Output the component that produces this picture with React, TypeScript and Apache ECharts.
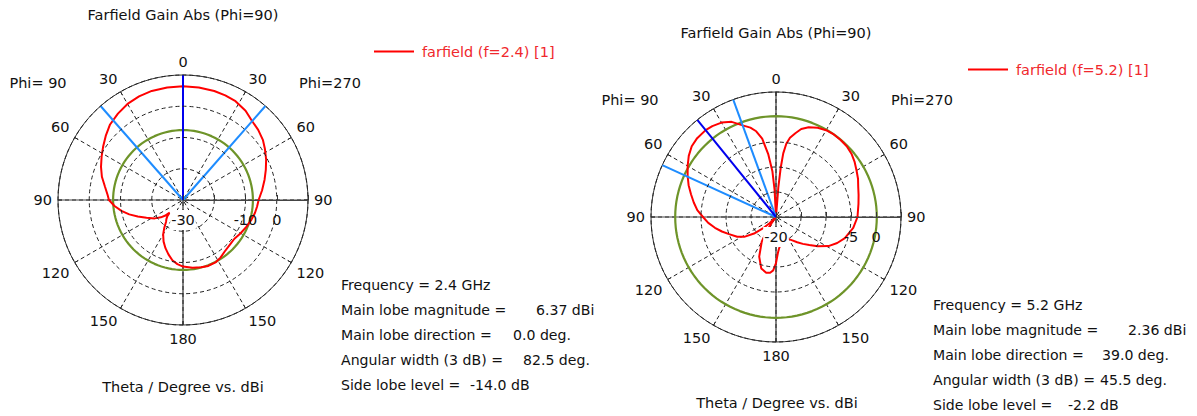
import React, { useEffect, useRef } from 'react';
import * as echarts from 'echarts';

const FONT = '"DejaVu Sans", Verdana, sans-serif';
const FS = 14.5;
const FS_INFO = 14.1;

// ---------- 2.4 GHz (left plot) ----------
const theta24Phi270 = [0, 8, 16, 22, 28, 35, 41, 47, 53, 58, 64, 70, 76, 83, 90, 95, 100, 106, 113, 120, 127, 133, 141, 147, 152, 159, 165, 172, 180];
const gain24Phi270 = [6.37, 6.35, 6.3, 6.1, 5.8, 4.9, 3.6, 2.9, 2.0, 0.9, -0.4, -1.8, -3.1, -4.5, -5.8, -6.2, -6.6, -7.2, -8.0, -8.7, -9.4, -9.3, -8.8, -8.0, -7.5, -7.4, -7.7, -8.1, -8.7];
const theta24Phi90 = [0, 8, 16, 23, 30, 37, 44, 50, 56, 62, 68, 74, 80, 86, 90, 95, 100, 105, 110, 116, 123, 128, 131, 133.5, 136, 139, 142, 146, 150, 155, 160, 165, 170, 175, 180];
const gain24Phi90 = [6.37, 6.35, 6.3, 6.0, 5.5, 4.6, 3.6, 2.2, 0.8, -0.5, -1.7, -3.0, -4.6, -5.8, -6.3, -8.0, -10.0, -12.2, -14.6, -17.0, -19.2, -21.0, -22.3, -24.1, -22.8, -21.9, -21.2, -19.3, -17.3, -15.3, -13.6, -12.0, -10.4, -9.4, -8.7];
const sideLobe24 = -7.63;
const mainDir24 = 0; // Phi=90 side
const beam24 = [41.25, -41.25]; // + = Phi=90 side, - = Phi=270 side
const radial24 = { min: -30, max: 10, step: 10, shown: [-30, -10, 0], hiddenGrid: [] as number[] };
const info24Labels = ['Frequency = 2.4 GHz', 'Main lobe magnitude =', 'Main lobe direction =', 'Angular width (3 dB) =', 'Side lobe level ='];
const info24Values = ['', '6.37 dBi', '0.0 deg.', '82.5 deg.', '-14.0 dB'];

// ---------- 5.2 GHz (right plot) ----------
const theta52Phi270 = [0, 3, 4.5, 5.5, 6.5, 8, 10, 13, 16, 20, 25, 30, 35, 40, 45, 50, 55, 60, 65, 70, 75, 81, 90, 98, 107, 113, 119, 125, 130, 135, 140, 145, 150, 155, 160, 165, 170, 174, 177, 180];
const gain52Phi270 = [-20, -20, -14, -10, -7.2, -5.2, -3.9, -2.8, -1.7, -0.9, -0.3, 0.05, 0.16, 0.12, 0.0, -0.3, -0.8, -1.4, -1.9, -2.5, -2.9, -3.3, -3.7, -4.4, -5.6, -6.7, -8.0, -9.8, -11.3, -12.4, -13.4, -14.3, -14.9, -15.3, -15.4, -15.1, -14.4, -13.8, -12.8, -10.8];
const theta52Phi90 = [0, 2, 3, 4.5, 7, 10, 13, 16, 20, 25, 30, 35, 39, 45, 50, 55, 60, 65, 70, 75, 80, 85, 90, 95, 100, 105, 110, 117, 122, 127, 131, 134, 137, 140, 143, 146, 150, 157, 164, 170, 174, 177, 180];
const gain52Phi90 = [-20, -20, -14.5, -10.8, -7.4, -4.1, -2.4, -1.4, -0.5, 1.0, 1.8, 2.2, 2.36, 2.3, 2.0, 1.3, 0.4, -0.5, -1.4, -2.4, -3.3, -4.2, -5.4, -6.4, -7.6, -8.8, -10.0, -11.3, -12.5, -14.5, -16.5, -18.2, -19.5, -20, -19, -16.8, -14.3, -11.4, -9.3, -8.7, -8.8, -9.3, -10.8];
const sideLobe52 = 0.16;
const mainDir52 = 39;
const beam52 = [20, 65.5];
const radial52 = { min: -20, max: 5, step: 5, shown: [-20, -5, 0], hiddenGrid: [0] };
const info52Labels = ['Frequency = 5.2 GHz', 'Main lobe magnitude =', 'Main lobe direction =', 'Angular width (3 dB) =', 'Side lobe level ='];
const info52Values = ['', '2.36 dBi', '39.0 deg.', '45.5 deg.', '-2.2 dB'];

const ringAngles = Array.from({ length: 121 }, (_, i) => i * 3);

const norm = (a: number) => ((a % 360) + 360) % 360;
// screen angle (ccw from east) for theta on each half
const aPhi90 = (t: number) => norm(90 + t);
const aPhi270 = (t: number) => norm(90 - t);

function pattern(th270: number[], g270: number[], th90: number[], g90: number[]) {
  const pts: number[][] = [];
  th270.forEach((t, i) => pts.push([g270[i], aPhi270(t)]));
  for (let i = th90.length - 1; i >= 0; i--) pts.push([g90[i], aPhi90(th90[i])]);
  return pts;
}

const angleLabel = (v: number) => {
  if (v >= 360) return '';
  if (v <= 90) return String(90 - v);
  if (v <= 270) return String(v - 90);
  return String(450 - v);
};

type Rad = { min: number; max: number; step: number; shown: number[]; hiddenGrid: number[] };

function buildPolar(idx: number, rad: Rad) {
  const angleAxis = {
    polarIndex: idx,
    type: 'value',
    min: 0,
    max: 360,
    interval: 30,
    startAngle: 0,
    clockwise: false,
    axisLine: { show: true, lineStyle: { color: '#333', width: 1 } },
    axisTick: { show: true, inside: true, length: 4, lineStyle: { color: '#333' } },
    axisLabel: { formatter: angleLabel, color: '#111', fontSize: FS, fontFamily: FONT, margin: 6 },
    splitLine: { show: true, lineStyle: { color: '#222', type: [4, 3], width: 1 } },
  };
  const gridColors: string[] = [];
  for (let v = rad.min; v <= rad.max; v += rad.step) gridColors.push(rad.hiddenGrid.includes(v) ? 'rgba(0,0,0,0)' : '#222');
  const radiusAxis = {
    polarIndex: idx,
    type: 'value',
    min: rad.min,
    max: rad.max,
    interval: rad.step,
    z: 10,
    axisLine: { show: true, lineStyle: { color: '#444', width: 1.2 } },
    axisTick: { show: true, inside: true, length: 5, lineStyle: { color: '#333' } },
    axisLabel: {
      formatter: (v: number) => (v === rad.min ? `{c|${v}}` : rad.shown.includes(v) ? String(v) : ''),
      color: '#111', fontSize: FS, fontFamily: FONT, margin: -20,
      verticalAlign: 'middle',
      rich: { c: { backgroundColor: '#fff', color: '#111', fontSize: FS, fontFamily: FONT, padding: [2, 1, 3, 1] } },
    },
    splitLine: { show: true, lineStyle: { color: gridColors, type: [4, 3], width: 1 } },
  };
  return { angleAxis, radiusAxis };
}

function seriesFor(idx: number, rad: { min: number; max: number }, name: string, data: number[][], side: number, mainA: number, beamA: number[]) {
  const base = { type: 'line', coordinateSystem: 'polar', polarIndex: idx, symbol: 'none', silent: true, smooth: false };
  return [
    { ...base, name: 'axes' + idx, data: [[rad.max, 90], [rad.min, 90], [rad.min, 270], [rad.max, 270]], lineStyle: { color: '#333', width: 1.2 }, z: 1 },
    { ...base, name: 'axesh' + idx, data: [[rad.max, 0], [rad.min, 0], [rad.min, 180], [rad.max, 180]], lineStyle: { color: '#444', width: 1.2 }, z: 1 },
    { ...base, name: 'sll' + idx, data: ringAngles.map((a) => [side, a]), lineStyle: { color: '#6e9429', width: 2.2 }, z: 2 },
    { ...base, name: name, data, lineStyle: { color: '#ff0000', width: 2 }, itemStyle: { color: '#ff0000' }, z: 3 },
    ...beamA.map((a, k) => ({ ...base, name: 'beam' + idx + k, data: [[rad.min, a], [rad.max, a]], lineStyle: { color: '#1e8cff', width: 2 }, z: 4 })),
    { ...base, name: 'main' + idx, data: [[rad.min, mainA], [rad.max, mainA]], lineStyle: { color: '#0000ee', width: 2 }, z: 5 },
  ];
}

function txt(text: string, x: number, y: number, align = 'left', size = FS) {
  return { type: 'text', x, y, z: 20, style: { text, fill: '#111', font: `${size}px ${FONT}`, textAlign: align, textVerticalAlign: 'middle' } };
}

export default function App() {
  const ref = useRef<HTMLDivElement>(null);
  useEffect(() => {
    if (!ref.current) return;
    const chart = echarts.init(ref.current, undefined, { renderer: 'svg' });
    const p0 = buildPolar(0, radial24);
    const p1 = buildPolar(1, radial52);
    const name24 = 'farfield (f=2.4) [1]';
    const name52 = 'farfield (f=5.2) [1]';
    const d24 = pattern(theta24Phi270, gain24Phi270, theta24Phi90, gain24Phi90);
    const d52 = pattern(theta52Phi270, gain52Phi270, theta52Phi90, gain52Phi90);
    const graphics: any[] = [
      txt('Farfield Gain Abs (Phi=90)', 183, 15, 'center'),
      txt('Phi= 90', 38, 83, 'center'),
      txt('Phi=270', 330, 83, 'center'),
      txt('Theta / Degree vs. dBi', 183, 387, 'center'),
      txt('Farfield Gain Abs (Phi=90)', 776, 33, 'center'),
      txt('Phi= 90', 630, 100, 'center'),
      txt('Phi=270', 922, 100, 'center'),
      txt('Theta / Degree vs. dBi', 777, 403, 'center'),
    ];
    const v24x = [0, 536, 513, 523, 470];
    const v52x = [0, 1128, 1102, 1100, 1068];
    info24Labels.forEach((l, i) => {
      graphics.push(txt(l, 341, 285 + i * 25, 'left', FS_INFO));
      if (info24Values[i]) graphics.push(txt(info24Values[i], v24x[i], 285 + i * 25, 'left', FS_INFO));
    });
    info52Labels.forEach((l, i) => {
      graphics.push(txt(l, 933, 305 + i * 25, 'left', FS_INFO));
      if (info52Values[i]) graphics.push(txt(info52Values[i], v52x[i], 305 + i * 25, 'left', FS_INFO));
    });
    const legendBase = {
      orient: 'horizontal', itemWidth: 40, itemHeight: 2, icon: 'rect', selectedMode: false,
      textStyle: { color: '#f0282d', fontSize: FS, fontFamily: FONT, padding: [0, 0, 0, 3] },
    };
    chart.setOption({
      animation: false,
      backgroundColor: '#fff',
      polar: [
        { center: [183, 200], radius: 125 },
        { center: [776, 217], radius: 125 },
      ],
      angleAxis: [p0.angleAxis, p1.angleAxis],
      radiusAxis: [p0.radiusAxis, p1.radiusAxis],
      legend: [
        { ...legendBase, data: [name24], left: 369, top: 39 },
        { ...legendBase, data: [name52], left: 963, top: 57 },
      ],
      series: [
        ...seriesFor(0, radial24, name24, d24, sideLobe24, aPhi90(mainDir24), beam24.map((b) => (b >= 0 ? aPhi90(b) : aPhi270(-b)))),
        ...seriesFor(1, radial52, name52, d52, sideLobe52, aPhi90(mainDir52), beam52.map((b) => aPhi90(b))),
      ],
      graphic: graphics,
    } as any);
    return () => chart.dispose();
  }, []);
  return <div ref={ref} style={{ position: 'fixed', left: 0, top: 0, width: 1197, height: 416 }} />;
}
